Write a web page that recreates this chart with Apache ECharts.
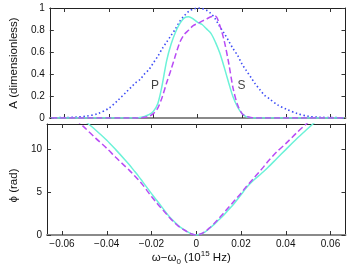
<!DOCTYPE html>
<html><head><meta charset="utf-8">
<script src="https://cdn.jsdelivr.net/npm/echarts@6/dist/echarts.min.js"></script>
<style>html,body{margin:0;padding:0;background:#fff}#c{width:349px;height:271px}</style>
</head><body><div id="c"></div>
<script>
// frequency offset (10^15 Hz)
const freq = [-0.066,-0.06,-0.055,-0.05,-0.045,-0.04,-0.036,-0.032,-0.03,-0.028,-0.026,-0.024,-0.022,-0.02,-0.018,-0.016,-0.014,-0.012,-0.01,-0.008,-0.006,-0.004,-0.002,0,0.002,0.004,0.006,0.008,0.01,0.012,0.014,0.016,0.018,0.02,0.022,0.024,0.026,0.028,0.03,0.032,0.036,0.04,0.045,0.05,0.055,0.06,0.066];
// amplitude, input (blue dotted)
const ampInput = [0.002,0.004,0.008,0.018,0.04,0.09,0.16,0.24,0.28,0.32,0.35,0.40,0.44,0.50,0.56,0.63,0.69,0.75,0.81,0.88,0.93,0.97,0.99,1.0,0.995,0.98,0.95,0.90,0.83,0.77,0.70,0.63,0.57,0.49,0.43,0.37,0.31,0.26,0.21,0.18,0.12,0.08,0.04,0.015,0.007,0.004,0.002];
// amplitude, cyan solid
const ampCyan = [0,0,0,0,0,0,0,0,0,0.001,0.004,0.015,0.03,0.06,0.13,0.30,0.52,0.67,0.78,0.86,0.91,0.92,0.90,0.87,0.85,0.81,0.77,0.69,0.59,0.46,0.32,0.19,0.10,0.04,0.01,0.003,0,0,0,0,0,0,0,0,0,0,0];
// amplitude, purple dashed
const ampPurple = [0,0,0,0,0,0,0,0,0,0,0.002,0.006,0.015,0.04,0.09,0.19,0.32,0.44,0.57,0.69,0.76,0.80,0.84,0.86,0.88,0.90,0.92,0.925,0.84,0.70,0.50,0.27,0.12,0.04,0.015,0.005,0,0,0,0,0,0,0,0,0,0,0];
// phase (rad), cyan solid
const phaseCyan = [16.8,15.6,14.5,13.4,12.3,11.1,10.0,8.85,8.25,7.6,6.95,6.25,5.55,4.85,4.15,3.5,2.8,2.15,1.6,1.1,0.72,0.4,0.12,0,0.12,0.38,0.8,1.25,1.75,2.25,2.85,3.4,4.05,4.7,5.4,6.0,6.5,6.95,7.4,7.9,8.95,10.0,11.3,12.5,13.7,14.9,16.3];
// phase (rad), purple dashed
const phasePurple = [16.3,15.0,13.8,12.6,11.35,10.15,9.1,8.1,7.6,7.05,6.5,5.9,5.2,4.5,3.85,3.25,2.65,2.05,1.5,1.05,0.68,0.37,0.12,0,0.12,0.4,0.85,1.35,1.9,2.5,3.1,3.7,4.3,4.9,5.55,6.15,6.75,7.35,7.95,8.6,9.75,10.7,12.0,13.2,14.4,15.6,17.0];
// tick values
const xTicks = [-0.06,-0.04,-0.02,0,0.02,0.04,0.06];
const ampTicks = [0,0.2,0.4,0.6,0.8,1];
const phaseTicks = [0,5,10];
// annotations
const annot = [[-0.0192,0.29,'P'],[0.0198,0.29,'S']];

const pairs = arr => freq.map((x,i)=>[x,arr[i]]);
const FONT = 'Liberation Sans, Arial, sans-serif';
const XMIN = -0.0667, XMAX = 0.0667;
const fmtNum = v => String(+v.toFixed(3)).replace('-', '\u2212');

function xAx(grid, pos, labels, gray){
  return {
    type:'value', gridIndex:grid, position:pos, min:XMIN, max:XMAX,
    splitLine:{show:false},
    axisLine:{onZero:false, lineStyle:{color: gray ? '#8a8a8a' : '#222', width: gray ? 2 : 1}},
    axisTick:{inside:true, length:4, customValues:xTicks, lineStyle:{color:'#333'}},
    axisLabel:{show:labels, customValues:xTicks, formatter:fmtNum, fontFamily:FONT, fontSize:10, color:'#111', margin:4}
  };
}
function yAx(grid, pos, labels, min, max, ticks){
  return {
    type:'value', gridIndex:grid, position:pos, min:min, max:max,
    splitLine:{show:false},
    axisLine:{onZero:false, lineStyle:{color:'#222', width:1}},
    axisTick:{inside:true, length:4, customValues:ticks, lineStyle:{color:'#333'}},
    axisLabel:{show:labels, customValues:ticks, formatter:fmtNum, fontFamily:FONT, fontSize:10, color:'#111', margin:5}
  };
}

const CYAN = '#6cf2d8', PURPLE = '#b84cf5', BLUE = '#3d4cf5';

const xAxes = [xAx(0,'bottom',false,true), xAx(0,'top',false,false), xAx(1,'bottom',true,true), xAx(1,'top',false,false)];
xAxes[2].name = '{a|\u03c9\u2212\u03c9}{sub|0}{a| (10}{sup|15}{a| Hz)}';
xAxes[2].nameLocation = 'middle';
xAxes[2].nameGap = 15;
xAxes[2].nameTextStyle = {fontFamily:FONT, color:'#111', padding:[0,10,0,0], rich:{
  a:{fontFamily:FONT, fontSize:11.5, color:'#111', lineHeight:16, verticalAlign:'middle'},
  sub:{fontFamily:FONT, fontSize:8, color:'#111', lineHeight:16, verticalAlign:'bottom'},
  sup:{fontFamily:FONT, fontSize:8, color:'#111', lineHeight:16, verticalAlign:'top'}
}};
const yAxes = [yAx(0,'left',true,0,1,ampTicks), yAx(0,'right',false,0,1,ampTicks), yAx(1,'left',true,0,13,phaseTicks), yAx(1,'right',false,0,13,phaseTicks)];
yAxes[0].name = 'A (dimensionless)';
yAxes[0].nameLocation = 'middle'; yAxes[0].nameGap = 18;
yAxes[0].nameTextStyle = {fontFamily:FONT, fontSize:11.5, color:'#111'};
yAxes[2].name = '\u03d5 (rad)';
yAxes[2].nameLocation = 'middle'; yAxes[2].nameGap = 18;
yAxes[2].nameTextStyle = {fontFamily:FONT, fontSize:11.5, color:'#111', padding:[0,12,0,0]};

const lineS = (data, xi, yi, color, type, z) => ({
  type:'line', xAxisIndex:xi, yAxisIndex:yi, data:pairs(data), showSymbol:false, smooth:0.3,
  lineStyle:{color:color, width: type==='dotted' ? 1.6 : 1.5, type: type==='dotted' ? [1.5,2.5] : (type==='dashed' ? [6,3] : 'solid')},
  z:z, animation:false, silent:true
});

const chart = echarts.init(document.getElementById('c'), null, {renderer:'canvas'});
chart.setOption({
  animation:false,
  backgroundColor:'#fff',
  grid:[{left:36, right:3.5, top:8, height:110}, {left:36, right:3.5, top:124, height:111}],
  xAxis:xAxes, yAxis:yAxes,
  series:[
    lineS(ampInput,0,0,BLUE,'dotted',3),
    lineS(ampPurple,0,0,PURPLE,'dashed',4),
    lineS(ampCyan,0,0,CYAN,'solid',3),
    lineS(phaseCyan,2,2,CYAN,'solid',3),
    lineS(phasePurple,2,2,PURPLE,'dashed',4),
    {type:'scatter', xAxisIndex:0, yAxisIndex:0, symbolSize:0, silent:true, animation:false,
     data:annot.map(a=>({value:[a[0],a[1]], name:a[2]})),
     label:{show:true, position:'inside', formatter:p=>p.name, fontFamily:FONT, fontSize:12, color:'#111'}}
  ]
});
</script></body></html>
